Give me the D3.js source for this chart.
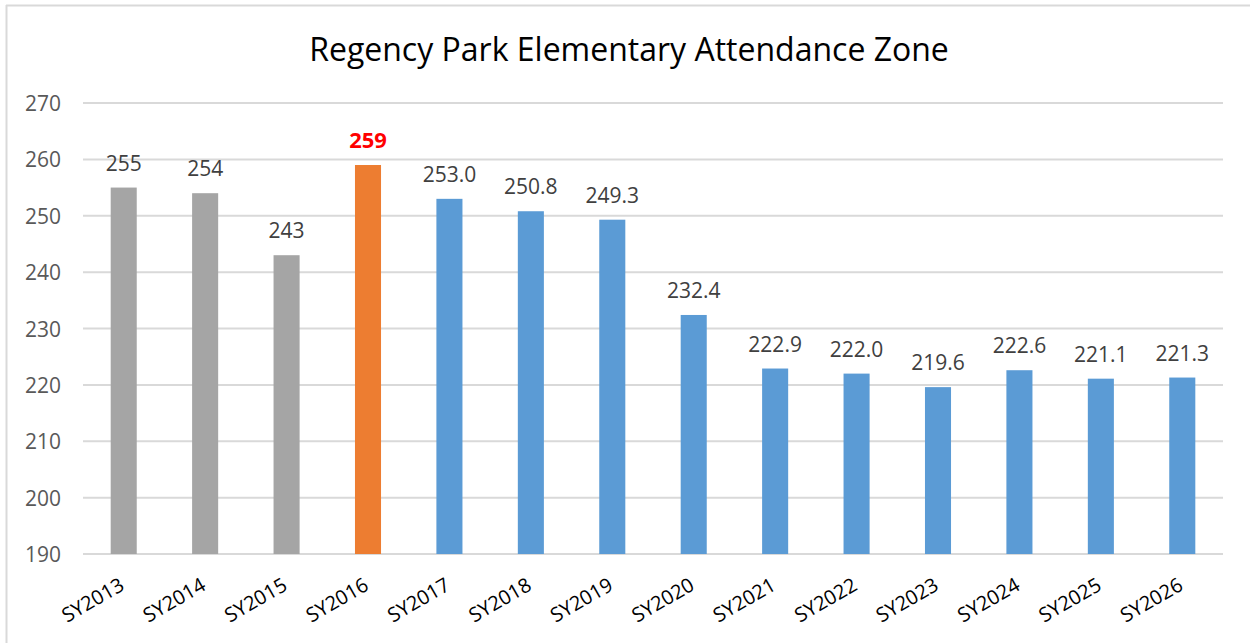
<!DOCTYPE html>
<html>
<head>
<meta charset="utf-8">
<title>Regency Park Elementary Attendance Zone</title>
<script src="https://cdn.jsdelivr.net/npm/d3@7"></script>
<style>
  body { margin: 0; background: #fff; }
  svg { display: block; font-family: "Open Sans", "Noto Sans", sans-serif; }
  .grid line { stroke: #d9d9d9; stroke-width: 2; }
  .y-axis, .x-axis { font-family: "Open Sans", "Noto Sans", sans-serif; }
  .y-axis text { fill: #595959; font-size: 21px; }
  .x-axis text { fill: #000; font-size: 20px; }
</style>
</head>
<body>
<svg id="chart" width="1250" height="643"></svg>
<script>
// data
var years = ["SY2013", "SY2014", "SY2015", "SY2016", "SY2017", "SY2018", "SY2019",
             "SY2020", "SY2021", "SY2022", "SY2023", "SY2024", "SY2025", "SY2026"];
var values = [255, 254, 243, 259, 253.0, 250.8, 249.3, 232.4, 222.9, 222.0, 219.6, 222.6, 221.1, 221.3];
var labels = ["255", "254", "243", "259", "253.0", "250.8", "249.3", "232.4", "222.9", "222.0", "219.6", "222.6", "221.1", "221.3"];
var kinds = ["past", "past", "past", "current", "proj", "proj", "proj", "proj", "proj", "proj", "proj", "proj", "proj", "proj"];
var yTicks = [190, 200, 210, 220, 230, 240, 250, 260, 270];

var colors = { past: "#a5a5a5", current: "#ed7d31", proj: "#5b9bd5" };

var svg = d3.select("#chart");
var W = 1250, H = 643;
var plotLeft = 83, plotRight = 1223, plotTop = 103, plotBottom = 554;

// chart frame (top and left edges visible)
svg.append("line").attr("x1", 6).attr("x2", W).attr("y1", 5.5).attr("y2", 5.5)
  .attr("stroke", "#d9d9d9").attr("stroke-width", 2);
svg.append("line").attr("x1", 6.5).attr("x2", 6.5).attr("y1", 5).attr("y2", H)
  .attr("stroke", "#d9d9d9").attr("stroke-width", 2);

svg.append("text")
  .attr("x", 629).attr("y", 61)
  .attr("text-anchor", "middle")
  .style("font-size", "32px")
  .style("fill", "#000")
  .text("Regency Park Elementary Attendance Zone");

var x = d3.scaleBand().domain(years).range([plotLeft, plotRight]).paddingInner(0.68).paddingOuter(0.34);
var y = d3.scaleLinear().domain([190, 270]).range([plotBottom, plotTop]);

// gridlines
svg.append("g").attr("class", "grid")
  .selectAll("line").data(yTicks).enter().append("line")
  .attr("x1", plotLeft).attr("x2", plotRight)
  .attr("y1", function (d) { return y(d); }).attr("y2", function (d) { return y(d); });

var yAxis = d3.axisLeft(y).tickValues(yTicks).tickSize(0).tickPadding(0);
svg.append("g").attr("class", "y-axis")
  .attr("transform", "translate(61,0)")
  .call(yAxis)
  .call(function (g) { g.select(".domain").remove(); })
  .selectAll("text").attr("dy", "0.36em");

// bars
svg.selectAll(".bar").data(years).enter().append("rect")
  .attr("class", "bar")
  .attr("x", function (d) { return x(d); })
  .attr("width", x.bandwidth())
  .attr("y", function (d, i) { return y(values[i]); })
  .attr("height", function (d, i) { return y(190) - y(values[i]); })
  .attr("fill", function (d, i) { return colors[kinds[i]]; });

// value labels
svg.selectAll(".label").data(years).enter().append("text")
  .attr("class", "label")
  .attr("x", function (d) { return x(d) + x.bandwidth() / 2; })
  .attr("y", function (d, i) { return y(values[i]) - 17; })
  .attr("text-anchor", "middle")
  .style("font-size", function (d, i) { return kinds[i] == "current" ? "22px" : "21px"; })
  .style("font-weight", function (d, i) { return kinds[i] == "current" ? "bold" : null; })
  .style("fill", function (d, i) { return kinds[i] == "current" ? "#ff0000" : "#404040"; })
  .text(function (d, i) { return labels[i]; });

// x axis labels, rotated
var xAxis = d3.axisBottom(x).tickSize(0).tickPadding(0);
svg.append("g").attr("class", "x-axis")
  .attr("transform", "translate(0," + plotBottom + ")")
  .call(xAxis)
  .call(function (g) { g.select(".domain").remove(); })
  .selectAll("text")
  .attr("text-anchor", "end")
  .attr("y", 0).attr("dy", 0)
  .attr("transform", "translate(2,35) rotate(-30)");
</script>
</body>
</html>
